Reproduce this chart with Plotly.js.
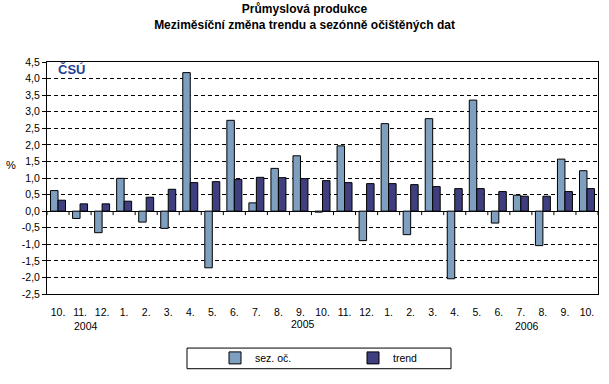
<!DOCTYPE html>
<html>
<head>
<meta charset="utf-8">
<script src="https://cdn.plot.ly/plotly-3.0.1.min.js"></script>
<style>html,body{margin:0;padding:0;background:#fff;}#chart{width:609px;height:384px;}</style>
</head>
<body>
<div id="chart"></div>
<script>
const months = ["10.","11.","12.","1.","2.","3.","4.","5.","6.","7.","8.","9.","10.","11.","12.","1.","2.","3.","4.","5.","6.","7.","8.","9.","10."];
const years = ["2004","2005","2006"];
const sezOc = [0.62, -0.22, -0.65, 0.99, -0.33, -0.52, 4.18, -1.71, 2.74, 0.25, 1.29, 1.67, -0.03, 1.97, -0.89, 2.64, -0.71, 2.79, -2.04, 3.35, -0.36, 0.48, -1.04, 1.57, 1.22];
const trend = [0.33, 0.22, 0.22, 0.30, 0.42, 0.66, 0.86, 0.89, 0.96, 1.02, 1.01, 0.98, 0.92, 0.86, 0.83, 0.83, 0.80, 0.74, 0.68, 0.68, 0.59, 0.45, 0.45, 0.59, 0.68];
const yTickVals = [-2.5,-2,-1.5,-1,-0.5,0,0.5,1,1.5,2,2.5,3,3.5,4,4.5];
const yTickText = ["-2,5","-2,0","-1,5","-1,0","-0,5","0,0","0,5","1,0","1,5","2,0","2,5","3,0","3,5","4,0","4,5"];
const seriesNames = ["sez. oč.","trend"];

const idx = months.map((m,i)=>i);
const boundaries = months.map((m,i)=>i-0.5).concat([months.length-0.5]);
const FONT = "Liberation Sans, Arial, sans-serif";

const traces = [
  {type:'bar', name:seriesNames[0], x:idx, y:sezOc, marker:{color:'#7f9fc0', line:{color:'#000', width:1}}, hoverinfo:'y'},
  {type:'bar', name:seriesNames[1], x:idx, y:trend, marker:{color:'#3f3f80', line:{color:'#000', width:1}}, hoverinfo:'y'}
];

const pxX = p => (p-47)/551;
const pxY = p => (298-p)/236;

// category-axis tick marks on the zero line (axis decoration)
const tickShapes = boundaries.map(b => ({type:'line', xref:'x', yref:'y', x0:b, x1:b, y0:0, y1:-0.12, line:{color:'#000', width:1}}));

const layout = {
  width:609, height:384,
  margin:{l:47, r:11, t:62, b:86, pad:0},
  paper_bgcolor:'#fff', plot_bgcolor:'#fff',
  font:{family:FONT, size:10, color:'#000'},
  showlegend:true,
  title:{text:'<b>Průmyslová produkce<br>Meziměsíční změna trendu a sezónně očištěných dat</b>', x:0.5, xref:'container', xanchor:'center', y:0.966, yref:'container', yanchor:'top', font:{family:FONT, size:12, color:'#000'}},
  bargap:0.32, bargroupgap:0, barmode:'group',
  xaxis:{range:[-0.5, months.length-0.5], tickmode:'array', tickvals:idx, ticktext:months, ticks:'outside', ticklen:8, tickcolor:'rgba(0,0,0,0)',
         showline:true, mirror:true, linecolor:'#000', linewidth:1, showgrid:false, zeroline:false, tickfont:{size:10.5}, fixedrange:true},
  yaxis:{range:[-2.5,4.5], tickmode:'array', tickvals:yTickVals, ticktext:yTickText, ticks:'outside', ticklen:4, tickcolor:'#000',
         showline:true, mirror:true, linecolor:'#000', linewidth:1, showgrid:true, gridcolor:'#000', gridwidth:1, griddash:'4px,3px',
         zeroline:true, zerolinecolor:'#000', zerolinewidth:1, tickfont:{size:10.5}, fixedrange:true},
  legend:{orientation:'h', x:pxX(215), xanchor:'left', y:pxY(363), yanchor:'middle', font:{size:10.5}, borderwidth:0, bgcolor:'rgba(0,0,0,0)',
          entrywidth:93, entrywidthmode:'pixels', itemwidth:30, traceorder:'normal'},
  shapes:[{type:'rect', xref:'paper', yref:'paper', x0:pxX(187), x1:pxX(451), y0:pxY(374), y1:pxY(353), line:{color:'#000', width:1}, fillcolor:'rgba(0,0,0,0)'}].concat(tickShapes),
  annotations:[
    {text:'%', xref:'paper', yref:'paper', x:pxX(11), y:pxY(167), showarrow:false, xanchor:'center', yanchor:'middle', font:{size:11}},
    {text:'<b>ČSÚ</b>', xref:'paper', yref:'paper', x:pxX(56), y:pxY(70), showarrow:false, xanchor:'left', yanchor:'middle', font:{size:13, color:'#1f3f96'}},
    {text:years[0], xref:'x', yref:'paper', x:1.27, y:pxY(331), showarrow:false, xanchor:'center', yanchor:'middle', font:{size:10.5}},
    {text:years[1], xref:'x', yref:'paper', x:11.1, y:pxY(329), showarrow:false, xanchor:'center', yanchor:'middle', font:{size:10.5}},
    {text:years[2], xref:'x', yref:'paper', x:21.3, y:pxY(331), showarrow:false, xanchor:'center', yanchor:'middle', font:{size:10.5}}
  ]
};

Plotly.newPlot('chart', traces, layout, {staticPlot:true, displayModeBar:false});
</script>
</body>
</html>
